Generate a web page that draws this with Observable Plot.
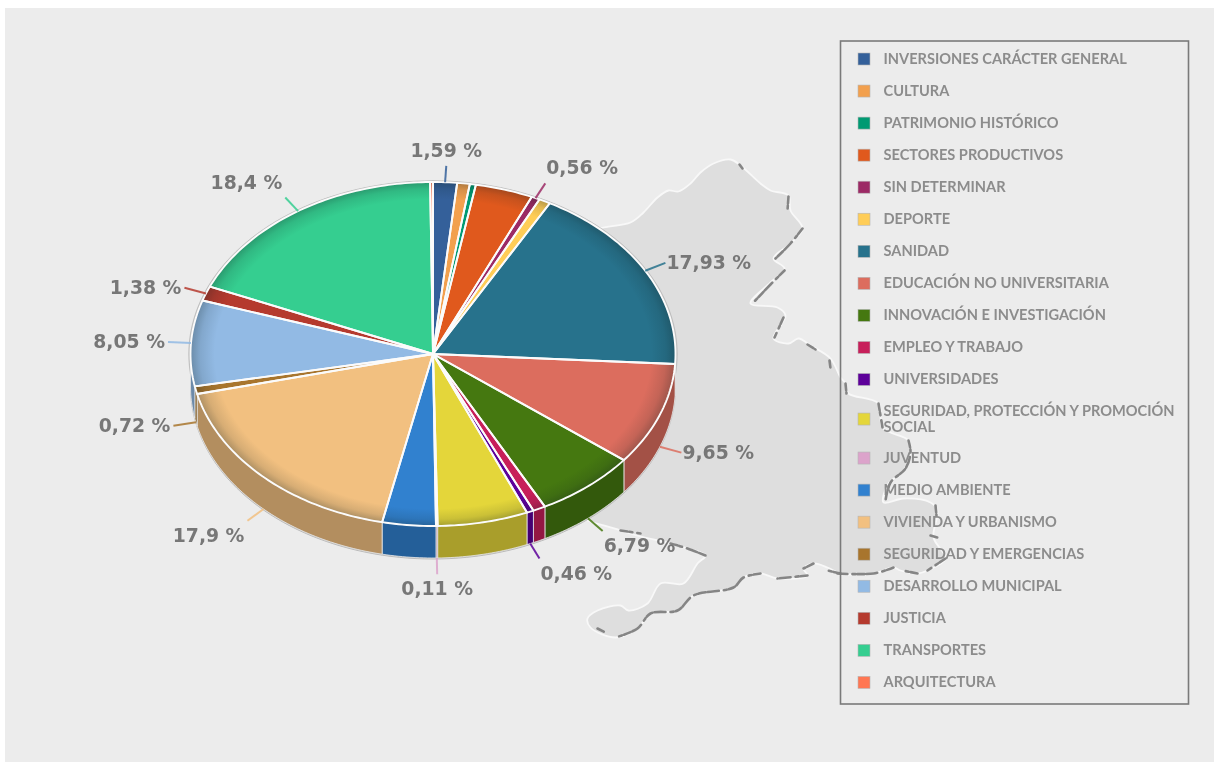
<!DOCTYPE html>
<html lang="es">
<head>
<meta charset="utf-8">
<script src="https://cdn.jsdelivr.net/npm/d3@7"></script>
<script src="https://cdn.jsdelivr.net/npm/@observablehq/plot@0.6"></script>
<style>
html,body{margin:0;padding:0;background:#fff}
svg{display:block;filter:blur(.6px)}
</style>
</head>
<body>
<div id="chart"></div>
<script>
const categories = ["INVERSIONES CARÁCTER GENERAL","CULTURA","PATRIMONIO HISTÓRICO","SECTORES PRODUCTIVOS","SIN DETERMINAR","DEPORTE","SANIDAD","EDUCACIÓN NO UNIVERSITARIA","INNOVACIÓN E INVESTIGACIÓN","EMPLEO Y TRABAJO","UNIVERSIDADES","SEGURIDAD, PROTECCIÓN Y PROMOCIÓN\nSOCIAL","JUVENTUD","MEDIO AMBIENTE","VIVIENDA Y URBANISMO","SEGURIDAD Y EMERGENCIAS","DESARROLLO MUNICIPAL","JUSTICIA","TRANSPORTES","ARQUITECTURA"];
const values = [1.59,0.84,0.40,3.84,0.56,0.77,17.93,9.65,6.79,0.84,0.46,6.03,0.11,3.56,17.9,0.72,8.05,1.38,18.4,0.19];
const colors = ["#34609a","#f2a04e","#009a72","#e0591d","#9c2a65","#ffcd57","#27728c","#dc6d5e","#457810","#c71f5a","#5d009a","#e4d63a","#dca3cb","#3181cf","#f2c080","#a8752d","#92bae4","#b53a2e","#35ce90","#ff7753"];
const labelled = [0,4,6,7,8,10,12,14,15,16,17,18];

// Backdrop map outline
const mapOutline = [[560,240],[603,227],[630,222],[643,212],[657,197],[668,190],[678,191],[690,183],[700,172],[713,163],[730,159],[740,165],[760,183],[770,190],[788,195],[790,210],[802,228],[790,243],[773,258],[784,268],[770,282],[750,303],[777,307],[785,315],[773,338],[788,343],[798,338],[810,345],[830,358],[840,377],[845,383],[848,393],[878,403],[882,427],[908,440],[910,450],[903,470],[888,483],[883,502],[903,498],[930,502],[937,510],[933,537],[945,558],[927,570],[917,573],[900,570],[893,567],[873,573],[840,573],[827,567],[813,563],[803,568],[807,575],[777,578],[760,573],[743,577],[733,587],[693,595],[677,610],[650,613],[637,628],[615,637],[590,627],[587,618],[597,610],[620,605],[628,610],[647,603],[660,583],[683,583],[697,563],[705,555],[687,548],[670,543],[620,530],[560,500]];
const coastDashes = [
  [[739,164],[742,168]],[[788,196],[787,210]],[[802,228],[790,243],[775,258]],[[784,270],[770,284],[752,303]],
  [[783,317],[774,337]],[[807,344],[815,349]],[[829,360],[830,368]],[[845,383],[846,393]],[[878,403],[882,427]],
  [[908,440],[910,452],[905,468],[890,482],[885,500]],[[935,505],[936,515]],[[930,535],[937,537]],[[945,558],[927,570]],
  [[917,573],[902,570]],[[893,567],[873,573],[837,573]],[[840,573],[827,570]],[[813,563],[803,568]],[[807,575],[777,578]],
  [[760,573],[743,577],[733,587],[693,595],[677,610],[650,613],[637,628],[615,637]],
  [[597,628],[605,632]],[[620,530],[640,533]],[[670,543],[687,548],[705,555]]
];

const W = 1214, H = 762;
const cx = 432.5, cy = 353.5, rx = 242.5, ry = 172, depth = 32;
const total = d3.sum(values);
const px = (t, k = 1) => cx + rx * k * Math.sin(t);
const py = (t, k = 1) => cy - ry * k * Math.cos(t);
const deg = Math.PI / 180;

let acc = 0;
const slices = values.map((v, i) => {
  const a0 = acc / total * 2 * Math.PI;
  acc += v;
  return {i, v, name: categories[i], color: colors[i], a0, a1: acc / total * 2 * Math.PI, mid: (a0 + acc / total * 2 * Math.PI) / 2};
});
const arcAngles = (a0, a1) => {
  const n = Math.max(1, Math.ceil((a1 - a0) / deg));
  return d3.range(n + 1).map(j => a0 + (a1 - a0) * j / n);
};
const topPts = slices.flatMap(s => {
  const pts = [{x: cx, y: cy}, ...arcAngles(s.a0, s.a1).map(t => ({x: px(t), y: py(t)})), {x: cx, y: cy}];
  return pts.map(p => ({...p, id: s.i, fill: s.color}));
});
const shade = c => { const r = d3.rgb(c); return d3.rgb(r.r * .74, r.g * .74, r.b * .74).formatHex(); };
const sidePts = slices.flatMap(s => {
  const a0 = Math.max(s.a0, Math.PI / 2), a1 = Math.min(s.a1, 3 * Math.PI / 2);
  if (a1 <= a0) return [];
  const as = arcAngles(a0, a1);
  const pts = [...as.map(t => ({x: px(t), y: py(t)})), ...as.slice().reverse().map(t => ({x: px(t), y: py(t) + depth}))];
  pts.push(pts[0]);
  return pts.map(p => ({...p, id: s.i, fill: shade(s.color)}));
});
const ellipsePts = (dy, k = 1) => d3.range(0, 361, 2).map(d => ({x: px(d * deg, k), y: py(d * deg, k) + dy}));

// Leaders and labels
const labels = labelled.map(i => {
  const s = slices[i], t = s.mid, c = Math.cos(t), sn = Math.sin(t);
  const front = c < 0 && t > Math.PI / 2 && t < 3 * Math.PI / 2 ? depth : 0;
  const k = 1.095;
  const x1 = px(t), y1 = py(t) + front, x2 = px(t, k), y2 = py(t, k) + front;
  const side = Math.abs(sn) < .1 ? "middle" : sn > 0 ? "start" : "end";
  const dy = c > .7 ? -15 : c < -.7 ? 15 : 0;
  return {x1, y1, x2, y2, color: s.color, side,
    tx: x2 + (side === "start" ? 1 : side === "end" ? -3 : 0), ty: y2 + dy,
    text: String(s.v).replace(".", ",") + " %"};
});

// Legend rows: the wrapped entry takes an extra half step
let rowY = 59;
const legendRows = categories.map((name, i) => {
  const wrapped = name.includes("\n");
  const y = wrapped ? rowY + 7.5 : rowY;
  rowY += wrapped ? 46.5 : 32.05;
  return {name, color: colors[i], y};
});

const defs = () => {
  const svgNS = "http://www.w3.org/2000/svg";
  const d = document.createElementNS(svgNS, "defs");
  const g = document.createElementNS(svgNS, "radialGradient");
  g.setAttribute("id", "rim");
  g.setAttribute("gradientUnits", "userSpaceOnUse");
  g.setAttribute("cx", 0); g.setAttribute("cy", 0); g.setAttribute("r", 1);
  g.setAttribute("gradientTransform", `translate(${cx},${cy}) scale(${rx},${ry})`);
  [[.9,0],[.96,.12],[1,.3]].forEach(([o, a]) => {
    const st = document.createElementNS(svgNS, "stop");
    st.setAttribute("offset", o); st.setAttribute("stop-color", "#102020"); st.setAttribute("stop-opacity", a);
    g.appendChild(st);
  });
  d.appendChild(g);
  return d;
};

const labelFont = {fontFamily: "DejaVu Sans", fontWeight: 700, fontSize: 18.8, fill: "#777"};

const plot = Plot.plot({
  width: W, height: H, margin: 0,
  x: {domain: [0, W], range: [0, W], axis: null},
  y: {domain: [0, H], range: [0, H], axis: null},
  color: {type: "identity"},
  style: {background: "#fff", overflow: "visible"},
  marks: [
    defs,
    Plot.rect([{}], {x1: () => 5, x2: () => W, y1: () => 8, y2: () => H, fill: "#ececec"}),
    Plot.line(mapOutline, {x: d => d[0], y: d => d[1], fill: "#dedede", stroke: "#f8f8f8", strokeWidth: 1.8, curve: "catmull-rom-closed"}),
    ...coastDashes.map(seg => Plot.line(seg, {x: d => d[0], y: d => d[1], stroke: "#858585", strokeWidth: 2.6, strokeDasharray: "7 2 3 5 11 2", curve: "catmull-rom"})),
    Plot.line(ellipsePts(depth + 1), {x: "x", y: "y", fill: "#c4c4c4", stroke: "#bbb", strokeWidth: 1}),
    Plot.line(ellipsePts(0, 1.007), {x: "x", y: "y", fill: "#bbb", stroke: "#bbb", strokeWidth: .8}),
    Plot.line(sidePts, {x: "x", y: "y", z: "id", fill: "fill", stroke: "#e8e8e8", strokeWidth: .8}),
    Plot.line(topPts, {x: "x", y: "y", z: "id", fill: "fill", stroke: "none"}),
    Plot.line(ellipsePts(0), {x: "x", y: "y", fill: "url(#rim)", stroke: "none"}),
    Plot.line(topPts, {x: "x", y: "y", z: "id", stroke: "#fbfbfb", strokeWidth: 1.9, strokeLinejoin: "round"}),
    Plot.link(labels, {x1: "x1", y1: "y1", x2: "x2", y2: "y2", stroke: "color", strokeWidth: 2, strokeOpacity: .85}),
    Plot.text(labels.filter(d => d.side === "start"), {x: "tx", y: "ty", text: "text", textAnchor: "start", ...labelFont}),
    Plot.text(labels.filter(d => d.side === "end"), {x: "tx", y: "ty", text: "text", textAnchor: "end", ...labelFont}),
    Plot.text(labels.filter(d => d.side === "middle"), {x: "tx", y: "ty", text: "text", textAnchor: "middle", ...labelFont}),
    Plot.rect([{}], {x1: () => 840.5, x2: () => 1188.5, y1: () => 41, y2: () => 704, fill: "none", stroke: "#7a7a7a", strokeWidth: 1.6}),
    Plot.rect(legendRows, {x1: () => 858, x2: () => 870, y1: d => d.y - 6, y2: d => d.y + 6, fill: "color", stroke: "#b5b5b5", strokeWidth: .6}),
    Plot.text(legendRows, {x: () => 883, y: d => d.y - 1, text: "name", textAnchor: "start", lineHeight: 1.1, fontFamily: "Lato", fontWeight: 700, fontSize: 14.6, fill: "#8c8c8c"})
  ]
});
document.getElementById("chart").appendChild(plot);
</script>
</body>
</html>
